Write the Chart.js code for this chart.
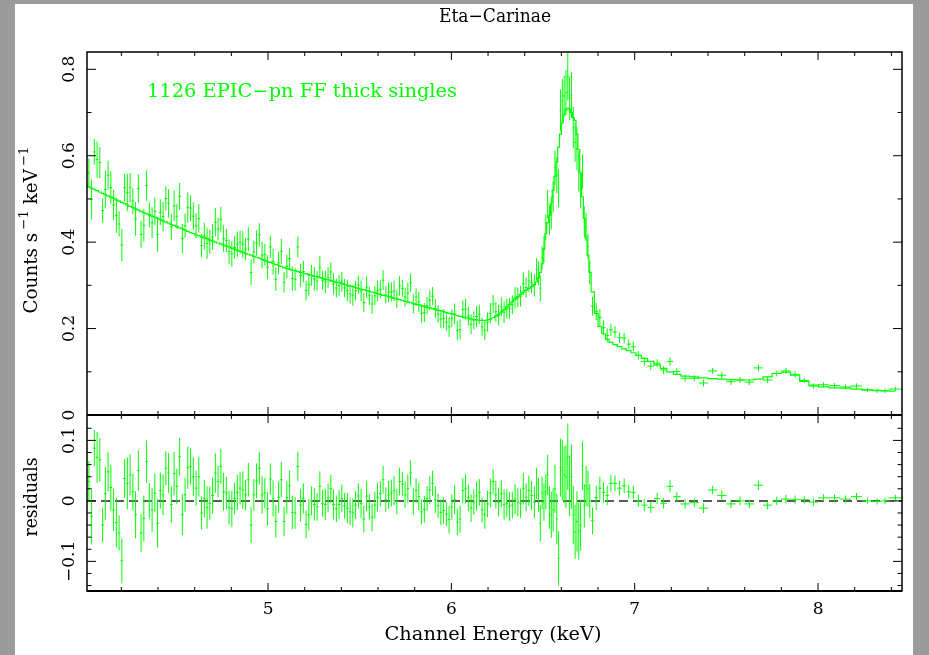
<!DOCTYPE html>
<html>
<head>
<meta charset="utf-8">
<title>Eta-Carinae</title>
<script src="https://cdn.jsdelivr.net/npm/chart.js@4.4.1/dist/chart.umd.min.js"></script>
<style>
  html, body { margin: 0; padding: 0; background: #9b9b9b; }
  canvas { display: block; }
</style>
</head>
<body>
<canvas id="spectrum" width="929" height="655"></canvas>
<script>
// channel grouping edges (keV); the bins get wider above the Fe K line
const binEdges = [
  4.000, 4.015, 4.030, 4.045, 4.060, 4.075, 4.090, 4.105, 4.120, 4.135,
  4.150, 4.165, 4.180, 4.195, 4.210, 4.225, 4.240, 4.255, 4.270, 4.285,
  4.300, 4.315, 4.330, 4.345, 4.360, 4.375, 4.390, 4.405, 4.420, 4.435,
  4.450, 4.465, 4.480, 4.495, 4.510, 4.525, 4.540, 4.555, 4.570, 4.585,
  4.600, 4.615, 4.630, 4.645, 4.660, 4.675, 4.690, 4.705, 4.720, 4.735,
  4.750, 4.765, 4.780, 4.795, 4.810, 4.825, 4.840, 4.855, 4.870, 4.885,
  4.900, 4.915, 4.930, 4.945, 4.960, 4.975, 4.990, 5.005, 5.020, 5.035,
  5.050, 5.065, 5.080, 5.095, 5.110, 5.125, 5.140, 5.155, 5.170, 5.185,
  5.200, 5.215, 5.230, 5.245, 5.260, 5.275, 5.290, 5.305, 5.320, 5.335,
  5.350, 5.365, 5.380, 5.395, 5.410, 5.425, 5.440, 5.455, 5.470, 5.485,
  5.500, 5.515, 5.530, 5.545, 5.560, 5.575, 5.590, 5.605, 5.620, 5.635,
  5.650, 5.665, 5.680, 5.695, 5.710, 5.725, 5.740, 5.755, 5.770, 5.785,
  5.800, 5.815, 5.830, 5.845, 5.860, 5.875, 5.890, 5.905, 5.920, 5.935,
  5.950, 5.965, 5.980, 5.995, 6.010, 6.025, 6.040, 6.055, 6.070, 6.085,
  6.100, 6.115, 6.130, 6.145, 6.160, 6.175, 6.190, 6.205, 6.220, 6.235,
  6.250, 6.265, 6.280, 6.295, 6.310, 6.325, 6.340, 6.355, 6.370, 6.385,
  6.400, 6.415, 6.430, 6.445, 6.460,
  6.47, 6.48, 6.49, 6.50, 6.51, 6.52, 6.53, 6.54, 6.55, 6.56,
  6.57, 6.58, 6.59, 6.60, 6.61, 6.62, 6.63, 6.64, 6.65, 6.66,
  6.67, 6.68, 6.69, 6.70, 6.71, 6.72, 6.73, 6.74, 6.75, 6.76,
  6.78, 6.80, 6.82, 6.84, 6.86, 6.88, 6.905, 6.93, 6.955, 6.98,
  7.005, 7.035, 7.07, 7.105, 7.14, 7.175, 7.21, 7.25, 7.30, 7.35,
  7.40, 7.45, 7.50, 7.55, 7.60, 7.65, 7.70, 7.75, 7.80, 7.85,
  7.90, 7.95, 8.00, 8.06, 8.12, 8.18, 8.24, 8.30, 8.345, 8.385,
  8.458
];

// folded model, counts s^-1 keV^-1
const modelCounts = [
  0.531, 0.528, 0.525, 0.522, 0.519, 0.516, 0.513, 0.510, 0.507, 0.504,
  0.501, 0.498, 0.495, 0.492, 0.489, 0.486, 0.483, 0.480, 0.477, 0.474,
  0.471, 0.468, 0.466, 0.463, 0.460, 0.458, 0.455, 0.452, 0.449, 0.447,
  0.444, 0.441, 0.439, 0.436, 0.433, 0.431, 0.428, 0.425, 0.422, 0.420,
  0.417, 0.415, 0.412, 0.410, 0.408, 0.405, 0.403, 0.400, 0.398, 0.396,
  0.393, 0.391, 0.389, 0.386, 0.384, 0.381, 0.379, 0.377, 0.374, 0.372,
  0.370, 0.367, 0.365, 0.363, 0.360, 0.358, 0.355, 0.353, 0.351, 0.348,
  0.346, 0.344, 0.341, 0.339, 0.337, 0.335, 0.334, 0.332, 0.330, 0.328,
  0.327, 0.325, 0.323, 0.321, 0.320, 0.318, 0.316, 0.314, 0.313, 0.311,
  0.309, 0.307, 0.306, 0.304, 0.302, 0.300, 0.298, 0.297, 0.295, 0.293,
  0.291, 0.290, 0.288, 0.286, 0.284, 0.283, 0.281, 0.279, 0.277, 0.276,
  0.274, 0.272, 0.270, 0.269, 0.267, 0.265, 0.263, 0.262, 0.260, 0.258,
  0.256, 0.255, 0.253, 0.251, 0.249, 0.248, 0.246, 0.244, 0.242, 0.241,
  0.239, 0.237, 0.235, 0.234, 0.232, 0.230, 0.228, 0.227, 0.225, 0.224,
  0.222, 0.221, 0.220, 0.219, 0.219, 0.219, 0.220, 0.222, 0.225, 0.229,
  0.233, 0.238, 0.244, 0.250, 0.256, 0.262, 0.268, 0.274, 0.279, 0.284,
  0.289, 0.293, 0.297, 0.302,
  0.308, 0.318, 0.330, 0.350, 0.385, 0.420, 0.445, 0.462, 0.490, 0.520,
  0.552, 0.585, 0.620, 0.650, 0.676, 0.695, 0.706, 0.710, 0.708, 0.700,
  0.688, 0.682, 0.650, 0.614, 0.560, 0.505, 0.455, 0.410, 0.370, 0.330,
  0.285, 0.235, 0.205, 0.188, 0.175, 0.168, 0.163, 0.158, 0.153, 0.149,
  0.144, 0.138, 0.131, 0.124, 0.116, 0.108, 0.100, 0.094, 0.090, 0.088,
  0.086, 0.084, 0.083, 0.082, 0.081, 0.081, 0.083, 0.088, 0.096, 0.099,
  0.092, 0.078, 0.069, 0.065, 0.063, 0.062, 0.060, 0.058, 0.057, 0.056,
  0.055
];

// data minus model, same units
const residuals = [
  -0.064, 0.032, -0.026, 0.087, 0.072, 0.068, -0.040, 0.012, 0.048, 0.022,
  -0.015, -0.036, -0.053, -0.099, 0.037, 0.029, 0.043, 0.015, -0.023, 0.050,
  -0.053, -0.029, 0.065, 0.000, -0.015, 0.013, -0.037, 0.017, 0.010, 0.054,
  0.046, -0.006, 0.045, 0.024, 0.073, -0.023, 0.010, 0.055, 0.057, 0.040,
  0.021, 0.040, -0.020, 0.004, -0.011, -0.004, 0.009, 0.046, 0.032, 0.057,
  0.015, 0.013, -0.011, -0.013, 0.004, 0.014, 0.021, 0.018, 0.010, 0.035,
  -0.040, 0.010, 0.033, 0.054, 0.010, 0.013, -0.013, 0.036, 0.004, -0.034,
  0.006, 0.035, -0.034, 0.005, 0.025, -0.019, -0.020, 0.057, -0.007, 0.004,
  -0.039, -0.023, 0.000, -0.006, -0.010, 0.024, -0.004, -0.006, 0.005, 0.020,
  -0.006, -0.013, -0.006, 0.004, -0.008, -0.012, -0.018, -0.020, -0.007, 0.008,
  -0.004, -0.030, 0.008, -0.010, -0.027, -0.007, 0.006, 0.012, 0.035, 0.002,
  0.010, 0.013, 0.017, -0.001, 0.032, 0.028, 0.010, 0.020, 0.046, -0.001,
  0.017, 0.007, -0.018, -0.014, 0.004, 0.018, 0.029, 0.002, -0.008, -0.019,
  -0.016, -0.022, -0.031, -0.010, 0.002, -0.035, -0.030, 0.017, 0.020, 0.005,
  -0.012, -0.002, 0.008, 0.014, -0.015, -0.023, -0.005, 0.013, 0.032, 0.010,
  -0.002, 0.012, -0.006, -0.004, -0.009, -0.007, 0.003, -0.002, -0.004, 0.020,
  0.006, 0.017, 0.009, -0.002,
  0.029, 0.010, -0.037, 0.013, -0.002, 0.015, 0.043, -0.011, -0.023, -0.015,
  0.020, -0.030, -0.095, 0.055, 0.051, 0.043, 0.040, 0.073, 0.025, 0.040,
  -0.023, -0.051, -0.034, -0.050, -0.040, 0.058, -0.008, 0.025, 0.020, 0.000,
  -0.033, 0.005, 0.021, 0.014, 0.009, 0.029, 0.029, 0.021, 0.025, 0.015,
  0.014, 0.000, -0.007, -0.011, 0.004, -0.004, 0.024, 0.007, -0.005, -0.003,
  -0.012, 0.018, 0.009, -0.005, 0.000, -0.005, 0.026, -0.007, 0.000, 0.003,
  0.002, 0.002, -0.002, 0.005, 0.005, 0.003, 0.007, 0.000, -0.001, 0.000,
  0.005
];

// 1 sigma errors on the data
const errors = [
  0.040, 0.034, 0.046, 0.030, 0.042, 0.036, 0.028, 0.044, 0.033, 0.038,
  0.035, 0.041, 0.029, 0.037, 0.032, 0.043, 0.034, 0.030, 0.039, 0.033,
  0.031, 0.038, 0.035, 0.029, 0.036, 0.032, 0.040, 0.030, 0.034, 0.028,
  0.033, 0.030, 0.036, 0.029, 0.031, 0.034, 0.028, 0.035, 0.030, 0.032,
  0.029, 0.033, 0.027, 0.031, 0.035, 0.028, 0.030, 0.033, 0.026, 0.029,
  0.031, 0.027, 0.028, 0.030, 0.026, 0.029, 0.027, 0.031, 0.025, 0.028,
  0.030, 0.026, 0.029, 0.027, 0.031, 0.025, 0.028, 0.026, 0.030, 0.027,
  0.026, 0.029, 0.024, 0.027, 0.025, 0.028, 0.026, 0.024, 0.027, 0.025,
  0.023, 0.026, 0.024, 0.027, 0.023, 0.025, 0.022, 0.026, 0.024, 0.023,
  0.025, 0.022, 0.024, 0.023, 0.021, 0.025, 0.022, 0.024, 0.023, 0.021,
  0.024, 0.022, 0.025, 0.021, 0.023, 0.022, 0.024, 0.021, 0.023, 0.020,
  0.023, 0.022, 0.024, 0.021, 0.023, 0.020, 0.022, 0.024, 0.021, 0.022,
  0.020, 0.023, 0.021, 0.022, 0.020, 0.023, 0.021, 0.022, 0.020, 0.021,
  0.022, 0.020, 0.023, 0.021, 0.024, 0.022, 0.023, 0.021, 0.024, 0.022,
  0.023, 0.021, 0.024, 0.022, 0.021, 0.023, 0.022, 0.024, 0.021, 0.023,
  0.024, 0.022, 0.025, 0.023, 0.024, 0.022, 0.025, 0.023, 0.024, 0.026,
  0.023, 0.025, 0.024, 0.026,
  0.026, 0.028, 0.030, 0.027, 0.031, 0.029, 0.033, 0.035, 0.038, 0.036,
  0.040, 0.042, 0.045, 0.048, 0.050, 0.047, 0.052, 0.055, 0.050, 0.053,
  0.048, 0.045, 0.050, 0.047, 0.042, 0.040, 0.036, 0.033, 0.030, 0.028,
  0.022, 0.020, 0.019, 0.017, 0.016, 0.014, 0.013, 0.012, 0.012, 0.011,
  0.011, 0.010, 0.010, 0.009, 0.009, 0.009, 0.010, 0.008, 0.008, 0.007,
  0.008, 0.007, 0.008, 0.007, 0.007, 0.007, 0.008, 0.007, 0.007, 0.007,
  0.007, 0.006, 0.006, 0.006, 0.006, 0.006, 0.006, 0.005, 0.005, 0.005,
  0.005
];

const energyMajor = [5, 6, 7, 8];
const energyMinor = [4.2, 4.4, 4.6, 4.8, 5.2, 5.4, 5.6, 5.8, 6.2, 6.4, 6.6, 6.8, 7.2, 7.4, 7.6, 7.8, 8.2, 8.4];
const countMajor = [0, 0.2, 0.4, 0.6, 0.8];
const countMinor = [0.1, 0.3, 0.5, 0.7];
const countLabels = ['0', '0.2', '0.4', '0.6', '0.8'];
const residMajor = [-0.1, 0, 0.1];
const residMinor = [-0.14, -0.12, -0.08, -0.06, -0.04, -0.02, 0.02, 0.04, 0.06, 0.08, 0.12];
const residLabels = ['\u22120.1', '0', '0.1'];

const GREEN = '#00ff00';
const FONT = '"DejaVu Serif", "Liberation Serif", serif';

const centers = binEdges.slice(0, -1).map((lo, i) => (lo + binEdges[i + 1]) / 2);
const modelPoints = centers.map((x, i) => ({ x: x, y: modelCounts[i] }));
const dataPoints = centers.map((x, i) => ({ x: x, y: modelCounts[i] + residuals[i] }));
const residPoints = centers.map((x, i) => ({ x: x, y: residuals[i] }));

// draw text squeezed/stretched to the width the plot uses
function fitText(c, text, x, y, width, size, rotate) {
    c.save();
    c.font = size + 'px ' + FONT;
    c.translate(x, y);
    if (rotate) c.rotate(-Math.PI / 2);
    const w = c.measureText(text).width;
    c.scale(width / w, 1);
    c.textAlign = 'center';
    c.textBaseline = 'alphabetic';
    c.fillText(text, 0, 0);
    c.restore();
}

const errorCrosses = {
    id: 'errorCrosses',
    afterDatasetsDraw(chart) {
        const c = chart.ctx;
        const xs = chart.scales.x;
        chart.data.datasets.forEach((ds) => {
            if (!ds.errorBars) return;
            const ys = chart.scales[ds.yAxisID];
            c.save();
            c.beginPath();
            c.rect(xs.left, ys.top, xs.right - xs.left, ys.bottom - ys.top);
            c.clip();
            c.strokeStyle = GREEN;
            c.lineWidth = 1;
            c.beginPath();
            ds.data.forEach((p, i) => {
                const xl = xs.getPixelForValue(binEdges[i]);
                const xr = xs.getPixelForValue(binEdges[i + 1]);
                const xc = xs.getPixelForValue(p.x);
                const yc = ys.getPixelForValue(p.y);
                c.moveTo(xl, yc);
                c.lineTo(xr, yc);
                c.moveTo(xc, ys.getPixelForValue(p.y + errors[i]));
                c.lineTo(xc, ys.getPixelForValue(p.y - errors[i]));
            });
            c.stroke();
            c.restore();
        });
    }
};

function panelTicks(c, xs, ys, major, minor) {
    const L = xs.left, R = xs.right, T = ys.top, B = ys.bottom;
    c.beginPath();
    energyMajor.forEach((v) => {
        const p = xs.getPixelForValue(v);
        c.moveTo(p, T); c.lineTo(p, T + 8);
        c.moveTo(p, B); c.lineTo(p, B - 8);
    });
    energyMinor.forEach((v) => {
        const p = xs.getPixelForValue(v);
        c.moveTo(p, T); c.lineTo(p, T + 4);
        c.moveTo(p, B); c.lineTo(p, B - 4);
    });
    major.forEach((v) => {
        const p = ys.getPixelForValue(v);
        c.moveTo(L, p); c.lineTo(L + 9, p);
        c.moveTo(R, p); c.lineTo(R - 9, p);
    });
    minor.forEach((v) => {
        const p = ys.getPixelForValue(v);
        c.moveTo(L, p); c.lineTo(L + 4.5, p);
        c.moveTo(R, p); c.lineTo(R - 4.5, p);
    });
    c.stroke();
}

const pgFrame = {
    id: 'pgFrame',
    beforeDraw(chart) {
        const c = chart.ctx;
        c.save();
        c.fillStyle = '#9b9b9b';
        c.fillRect(0, 0, chart.width, chart.height);
        c.fillStyle = '#ffffff';
        c.fillRect(15, 4, 898, 651);
        c.restore();
    },
    afterDraw(chart) {
        const c = chart.ctx;
        const xs = chart.scales.x, yc = chart.scales.y, yr = chart.scales.y2;
        c.save();
        c.strokeStyle = '#000';
        c.lineWidth = 1;
        panelTicks(c, xs, yc, countMajor, countMinor);
        panelTicks(c, xs, yr, residMajor, residMinor);

        c.lineWidth = 1.5;
        c.strokeRect(xs.left, yc.top, xs.right - xs.left, yr.bottom - yc.top);
        c.lineWidth = 2;
        c.beginPath();
        c.moveTo(xs.left, yc.bottom); c.lineTo(xs.right, yc.bottom);
        c.moveTo(xs.left, yr.bottom); c.lineTo(xs.right, yr.bottom);
        c.stroke();

        // tick labels
        c.fillStyle = '#000';
        c.font = '17px ' + FONT;
        c.textAlign = 'center';
        c.textBaseline = 'alphabetic';
        energyMajor.forEach((v) => {
            c.fillText(String(v), xs.getPixelForValue(v), 614);
        });
        const yLabel = (text, p) => {
            c.save();
            c.translate(74, p);
            c.rotate(-Math.PI / 2);
            c.fillText(text, 0, 0);
            c.restore();
        };
        countMajor.forEach((v, i) => yLabel(countLabels[i], yc.getPixelForValue(v)));
        residMajor.forEach((v, i) => yLabel(residLabels[i], yr.getPixelForValue(v)));

        // axis titles
        fitText(c, 'Eta\u2212Carinae', 495, 22, 112, 18, false);
        fitText(c, 'Channel Energy (keV)', 493, 640, 217, 18, false);
        fitText(c, 'residuals', 37, 497, 79, 18, true);

        // y title with superscripts
        c.save();
        c.translate(37, 230);
        c.rotate(-Math.PI / 2);
        const parts = [['Counts s', false], ['\u22121', true], [' keV', false], ['\u22121', true]];
        const sizeOf = (sup) => (sup ? '13px ' : '18px ') + FONT;
        let total = 0;
        parts.forEach(([t, sup]) => { c.font = sizeOf(sup); total += c.measureText(t).width + (sup ? 3 : 0); });
        c.scale(167 / total, 1);
        let pos = -total / 2;
        c.textAlign = 'left';
        parts.forEach(([t, sup]) => {
            c.font = sizeOf(sup);
            if (sup) pos += 3;
            c.fillText(t, pos, sup ? -9 : 0);
            pos += c.measureText(t).width;
        });
        c.restore();

        // data set label inside the top panel
        c.fillStyle = GREEN;
        fitText(c, '1126 EPIC\u2212pn FF thick singles', 302, 97, 310, 18, false);
        c.restore();
    }
};

const ctx = document.getElementById('spectrum').getContext('2d');
const spectrumChart = new Chart(ctx, {
    type: 'line',
    data: {
        datasets: [
            {
                label: 'model',
                data: modelPoints,
                yAxisID: 'y',
                stepped: 'middle',
                borderColor: GREEN,
                borderWidth: 1.2,
                pointRadius: 0
            },
            {
                label: 'data',
                data: dataPoints,
                yAxisID: 'y',
                showLine: false,
                pointRadius: 0,
                errorBars: true
            },
            {
                label: 'zero',
                data: [{ x: 4.0125, y: 0 }, { x: 8.458, y: 0 }],
                yAxisID: 'y2',
                borderColor: '#5a5a5a',
                borderWidth: 2,
                borderDash: [9, 5],
                pointRadius: 0
            },
            {
                label: 'residuals',
                data: residPoints,
                yAxisID: 'y2',
                showLine: false,
                pointRadius: 0,
                errorBars: true
            }
        ]
    },
    options: {
        responsive: false,
        animation: false,
        devicePixelRatio: 1,
        layout: {
            padding: { left: 87, right: 27, top: 52, bottom: 64 }
        },
        plugins: {
            legend: { display: false },
            tooltip: { enabled: false },
            title: { display: false }
        },
        scales: {
            x: { type: 'linear', min: 4.0125, max: 8.458, display: false },
            y: { type: 'linear', min: 0, max: 0.84, display: false, stack: 'panels', stackWeight: 363, weight: 2 },
            y2: { type: 'linear', min: -0.149, max: 0.142, display: false, stack: 'panels', stackWeight: 176, weight: 1 }
        }
    },
    plugins: [pgFrame, errorCrosses]
});
</script>
</body>
</html>
